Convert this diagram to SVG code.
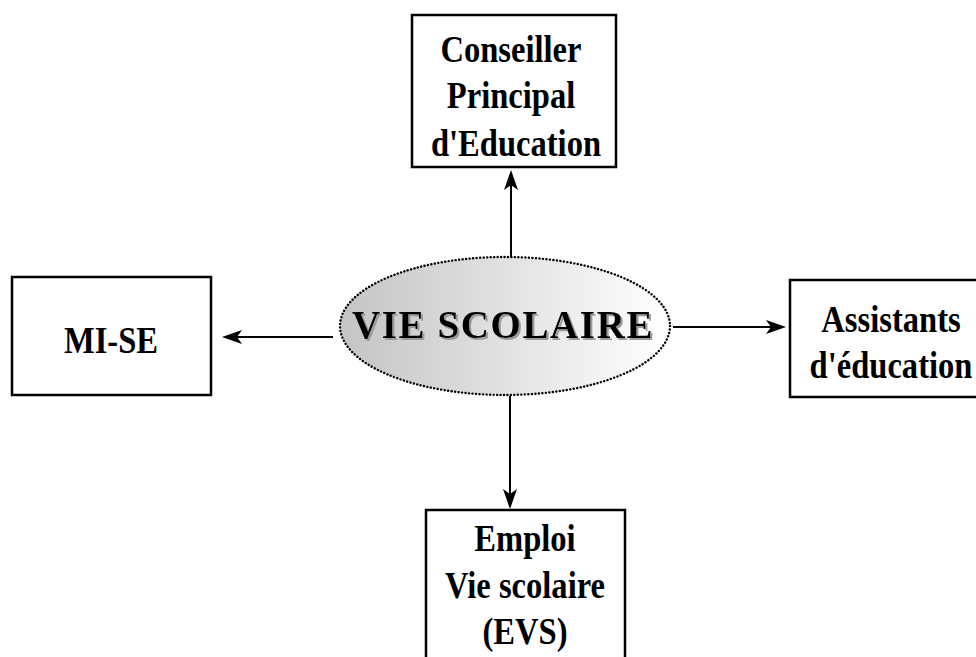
<svg xmlns="http://www.w3.org/2000/svg" width="976" height="657" viewBox="0 0 976 657">
  <style>
    .box { fill: #ffffff; stroke: #000000; stroke-width: 2.5; }
    .lbl { font-family: "Liberation Serif", "Times New Roman", serif; font-weight: bold; font-size: 37px; fill: #000000; text-anchor: middle; }
    .conn { stroke: #000000; stroke-width: 2; fill: none; marker-end: url(#arrow); }
    .title { font-family: "Liberation Serif", "Times New Roman", serif; font-weight: bold; font-size: 39px; letter-spacing: 1.6px; text-anchor: middle; fill: #000000; }
  </style>
  <defs>
    <linearGradient id="ellGrad" x1="0" y1="0" x2="1" y2="0">
      <stop offset="0" stop-color="#c4c4c4"/>
      <stop offset="1" stop-color="#ffffff"/>
    </linearGradient>
    <filter id="shadow" x="-10%" y="-30%" width="120%" height="160%">
      <feOffset in="SourceAlpha" dx="2" dy="2" result="off"/>
      <feFlood flood-color="#9a9a9a"/>
      <feComposite in2="off" operator="in" result="sh"/>
      <feMerge>
        <feMergeNode in="sh"/>
        <feMergeNode in="SourceGraphic"/>
      </feMerge>
    </filter>
    <marker id="arrow" markerUnits="userSpaceOnUse" markerWidth="22" markerHeight="14" refX="10" refY="7" orient="auto">
      <path d="M0,0 L20,7 L0,14 L5,7 Z" fill="#000000"/>
    </marker>
  </defs>
  <rect width="976" height="657" fill="#ffffff"/>

  <g id="connectors">
    <line class="conn" x1="511" y1="257" x2="511" y2="180"/>
    <line class="conn" x1="510" y1="396" x2="510" y2="499"/>
    <line class="conn" x1="333" y1="337" x2="232" y2="337"/>
    <line class="conn" x1="673" y1="327" x2="776" y2="327"/>
  </g>

  <g id="center">
    <ellipse cx="505" cy="326" rx="165" ry="69" fill="url(#ellGrad)" stroke="#000000" stroke-width="2.4" stroke-dasharray="0.1 3.4" stroke-linecap="round"/>
    <text class="title" x="503" y="338" filter="url(#shadow)">VIE SCOLAIRE</text>
  </g>

  <g id="cpe">
    <rect class="box" x="412" y="15" width="204" height="152"/>
    <text class="lbl" transform="translate(511 0) scale(0.88 1)" x="0" y="62">Conseiller</text>
    <text class="lbl" transform="translate(511 0) scale(0.88 1)" x="0" y="108">Principal</text>
    <text class="lbl" transform="translate(516 0) scale(0.88 1)" x="0" y="156">d'Education</text>
  </g>

  <g id="mise">
    <rect class="box" x="12" y="277" width="199" height="118"/>
    <text class="lbl" transform="translate(111 0) scale(0.88 1)" x="0" y="353">MI-SE</text>
  </g>

  <g id="assistants">
    <rect class="box" x="790" y="280" width="200" height="117"/>
    <text class="lbl" transform="translate(891 0) scale(0.88 1)" x="0" y="332">Assistants</text>
    <text class="lbl" transform="translate(891 0) scale(0.88 1)" x="0" y="378">d'éducation</text>
  </g>

  <g id="evs">
    <rect class="box" x="426" y="510" width="199" height="160"/>
    <text class="lbl" transform="translate(525 0) scale(0.88 1)" x="0" y="551">Emploi</text>
    <text class="lbl" transform="translate(525 0) scale(0.88 1)" x="0" y="598">Vie scolaire</text>
    <text class="lbl" transform="translate(525 0) scale(0.88 1)" x="0" y="644">(EVS)</text>
  </g>
</svg>
